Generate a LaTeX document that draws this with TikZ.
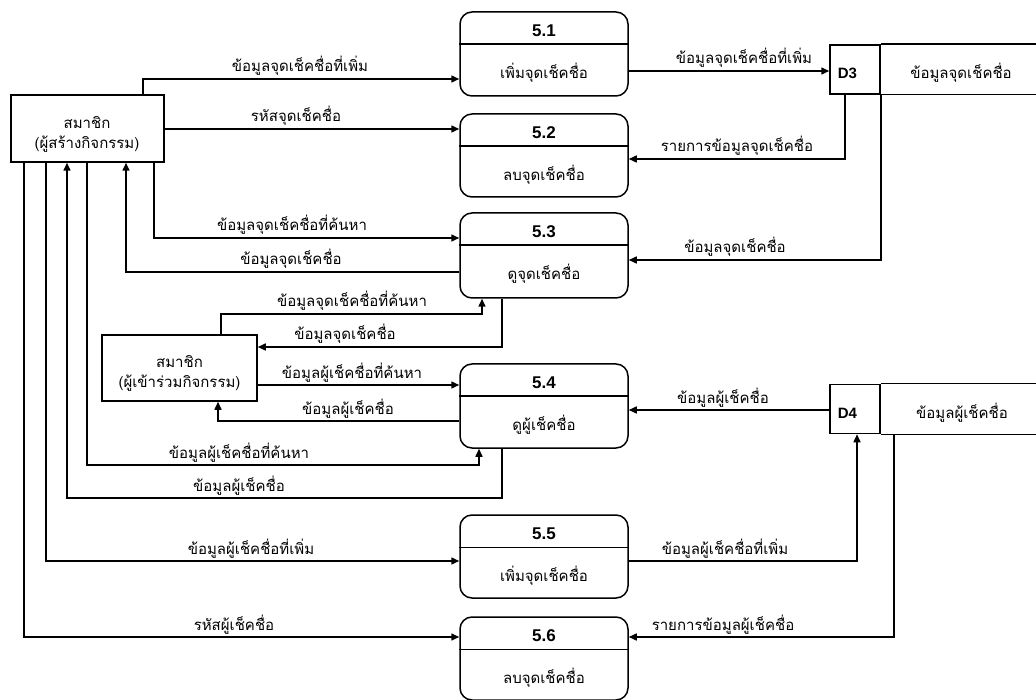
\documentclass[tikz,border=0pt]{standalone}
\usepackage{fontspec}
\setmainfont{Liberation Sans}
\newfontfamily\thaifont[Script=Thai]{Loma}
\usetikzlibrary{arrows.meta}

\begin{document}
\begin{tikzpicture}[x=1pt,y=-1pt,
  line width=1.5pt,
  proc/.style={draw, rounded corners=12pt, minimum width=168pt, minimum height=84pt, inner sep=0pt},
  ent/.style={draw, inner sep=0pt},
  store/.style={draw, minimum width=50pt, minimum height=49pt, inner sep=0pt},
  flow/.style={-{Triangle[length=8pt,width=7pt]}},
  lbl/.style={font=\thaifont\fontsize{15}{20}\selectfont, inner sep=0pt, anchor=base},
  num/.style={font=\bfseries\fontsize{17}{19}\selectfont, inner sep=0pt, anchor=base},
]
\useasboundingbox (0,0) rectangle (1036,700);

% ---------- external entities ----------
\node[ent, minimum width=153pt, minimum height=67pt] (a1) at (87.5,128.5) {};
\node[lbl, anchor=center, align=center] (a1t) at (87,134) {สมาชิก\\(ผู้สร้างกิจกรรม)};
\node[ent, minimum width=155pt, minimum height=66pt] (a2) at (179.5,368) {};
\node[lbl, anchor=center, align=center] (a2t) at (179.5,373) {สมาชิก\\(ผู้เข้าร่วมกิจกรรม)};

% ---------- processes ----------
\newcommand{\procbox}[5]{%
  \node[proc, minimum height=#3pt] (#1) at (544,#2) {};
  \draw ([yshift=-33pt]#1.north west) -- ([yshift=-33pt]#1.north east);
  \node[num] (#1n) at ([yshift=-25pt]#1.north) {#4};
  \node[lbl] (#1t) at ([yshift=-67pt]#1.north) {#5};
}
\procbox{p1}{54}{84}{5.1}{เพิ่มจุดเช็คชื่อ}
\procbox{p2}{155.5}{83}{5.2}{ลบจุดเช็คชื่อ}
\procbox{p3}{255.5}{85}{5.3}{ดูจุดเช็คชื่อ}
\procbox{p4}{406}{84}{5.4}{ดูผู้เช็คชื่อ}
\procbox{p5}{556.5}{83}{5.5}{เพิ่มจุดเช็คชื่อ}
\procbox{p6}{658.5}{83}{5.6}{ลบจุดเช็คชื่อ}

% ---------- data stores (open on the right) ----------
\node[store] (d3) at (855,69.5) {};
\draw (d3.north east) -- (d3.north east -| 1037,0);
\draw (d3.south east) -- (d3.south east -| 1037,0);
\node[num, anchor=base west, font=\bfseries\fontsize{15}{18}\selectfont] (d3n) at ([xshift=-18pt,yshift=-9pt]d3.center) {D3};
\node[lbl] (d3t) at (961,78.5) {ข้อมูลจุดเช็คชื่อ};

\node[store] (d4) at (855,409) {};
\draw (d4.north east) -- (d4.north east -| 1037,0);
\draw (d4.south east) -- (d4.south east -| 1037,0);
\node[num, anchor=base west, font=\bfseries\fontsize{15}{18}\selectfont] (d4n) at ([xshift=-18pt,yshift=-9pt]d4.center) {D4};
\node[lbl] (d4t) at (962,418) {ข้อมูลผู้เช็คชื่อ};

% ---------- flows between the creator and the processes ----------
\draw[flow] (a1.north -| 143,0) |- (p1.west |- 0,79);
\draw[flow] (a1.east |- 0,129) -- (p2.west |- 0,129);
\draw[flow] (a1.south -| 154,0) |- (p3.west |- 0,238);
\draw[flow] (p3.west |- 0,272) -| (a1.south -| 126,0);
\draw[flow] (a1.south -| 87,0) |- (479,465) -- (p4.south -| 479,0);
\draw[flow] (p4.south -| 502,0) |- (67,498) -- (a1.south -| 67,0);
\draw[flow] (a1.south -| 46,0) |- (p5.west |- 0,561);
\draw[flow] (a1.south -| 24,0) |- (p6.west |- 0,637);

% ---------- flows between the participant and the processes ----------
\draw[flow] (a2.north -| 221,0) |- (482,314) -- (p3.south -| 482,0);
\draw[flow] (p3.south -| 502,0) |- (a2.east |- 0,347);
\draw[flow] (a2.east |- 0,385) -- (p4.west |- 0,385);
\draw[flow] (p4.west |- 0,421) -| (a2.south -| 218,0);

% ---------- flows to and from the data stores ----------
\draw[flow] (p1.east |- 0,71) -- (d3.west |- 0,71);
\draw[flow] (d3.south -| 845,0) |- (p2.east |- 0,159);
\draw[flow] (d3.south east) |- (p3.east |- 0,260);
\draw[flow] (d4.west |- 0,410) -- (p4.east |- 0,410);
\draw[flow] (p5.east |- 0,561) -| (d4.south -| 857,0);
\draw[flow] (d4.south -| 894,0) |- (p6.east |- 0,637);

% ---------- flow labels ----------
\node[lbl] (l1)  at (300,72)  {ข้อมูลจุดเช็คชื่อที่เพิ่ม};
\node[lbl] (l2)  at (296,122) {รหัสจุดเช็คชื่อ};
\node[lbl] (l3)  at (292,231) {ข้อมูลจุดเช็คชื่อที่ค้นหา};
\node[lbl] (l4)  at (291,265) {ข้อมูลจุดเช็คชื่อ};
\node[lbl] (l5)  at (352,307) {ข้อมูลจุดเช็คชื่อที่ค้นหา};
\node[lbl] (l6)  at (345,340) {ข้อมูลจุดเช็คชื่อ};
\node[lbl] (l7)  at (352,378) {ข้อมูลผู้เช็คชื่อที่ค้นหา};
\node[lbl] (l8)  at (348,414) {ข้อมูลผู้เช็คชื่อ};
\node[lbl] (l9)  at (239,458) {ข้อมูลผู้เช็คชื่อที่ค้นหา};
\node[lbl] (l10) at (239,491) {ข้อมูลผู้เช็คชื่อ};
\node[lbl] (l11) at (251,554) {ข้อมูลผู้เช็คชื่อที่เพิ่ม};
\node[lbl] (l12) at (234,630) {รหัสผู้เช็คชื่อ};
\node[lbl] (l13) at (744,64)  {ข้อมูลจุดเช็คชื่อที่เพิ่ม};
\node[lbl] (l14) at (737,152) {รายการข้อมูลจุดเช็คชื่อ};
\node[lbl] (l15) at (735,253) {ข้อมูลจุดเช็คชื่อ};
\node[lbl] (l16) at (723,403) {ข้อมูลผู้เช็คชื่อ};
\node[lbl] (l17) at (725,554) {ข้อมูลผู้เช็คชื่อที่เพิ่ม};
\node[lbl] (l18) at (723,630) {รายการข้อมูลผู้เช็คชื่อ};
\end{tikzpicture}
\end{document}
